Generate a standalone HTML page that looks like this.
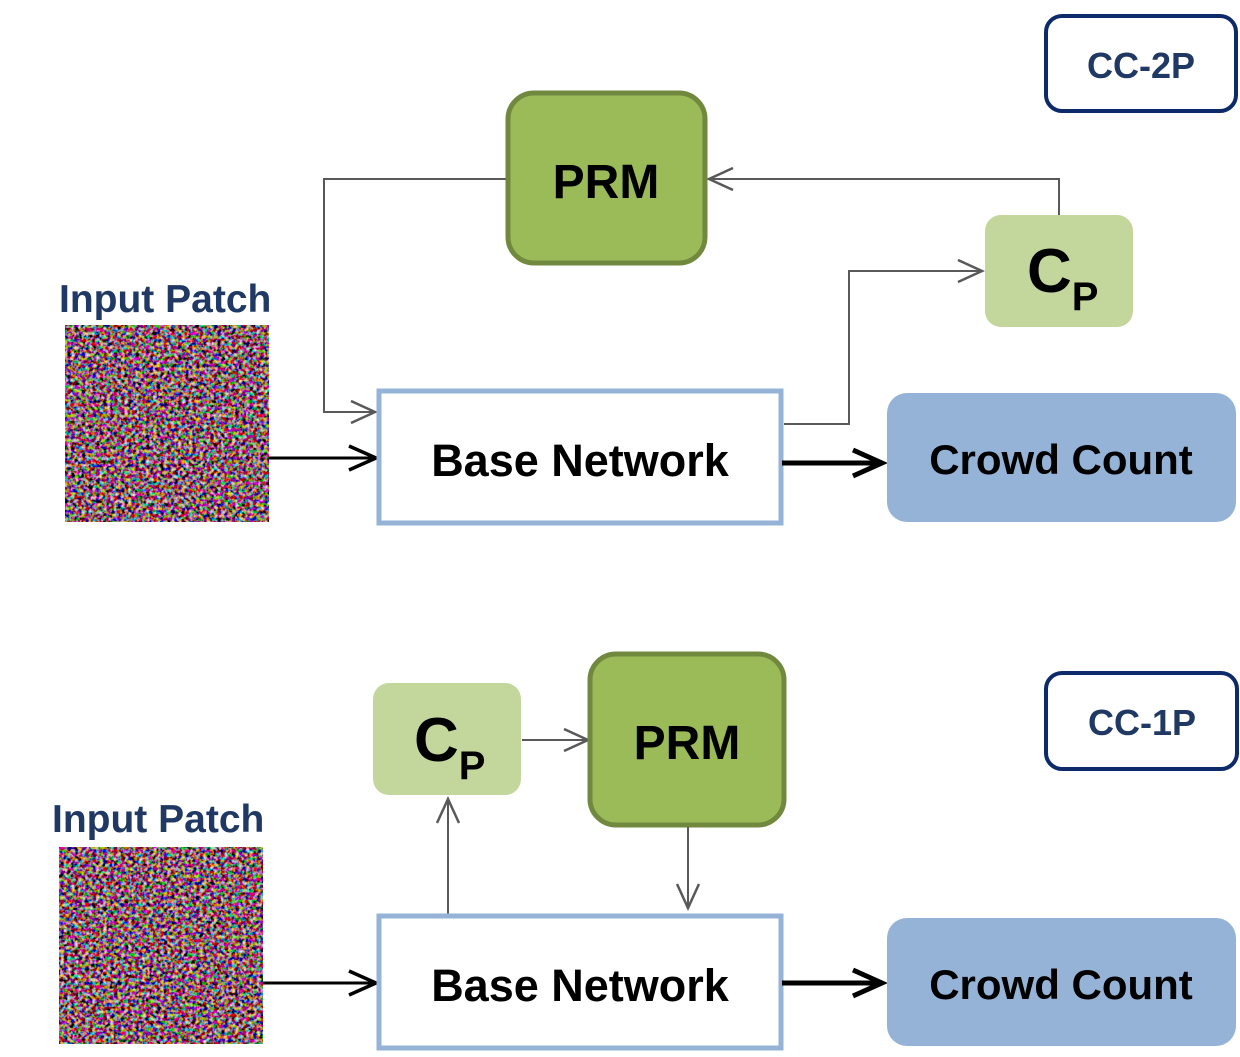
<!DOCTYPE html>
<html><head><meta charset="utf-8"><style>
html,body{margin:0;padding:0;background:#fff;}
svg{display:block;}
text{font-family:"Liberation Sans",sans-serif;font-weight:bold;}
</style></head><body>
<svg width="1240" height="1057" viewBox="0 0 1240 1057" xmlns="http://www.w3.org/2000/svg">
<defs>
<filter id="crowd" x="0" y="0" width="100%" height="100%">
<feTurbulence type="fractalNoise" baseFrequency="0.28" numOctaves="2" seed="7" result="n"/>
<feColorMatrix in="n" type="matrix" values="2.4 0.3 0 0 -1.05  0 2.2 0.2 0 -1.05  0 0.2 2.2 0 -1.0  0 0 0 0 1"/>
</filter>
<marker id="ag" markerWidth="30" markerHeight="30" refX="26" refY="13" orient="auto" markerUnits="userSpaceOnUse">
<path d="M2,2 L26,13 L2,24" fill="none" stroke="#595959" stroke-width="2.5"/></marker>
<marker id="ab" markerWidth="34" markerHeight="34" refX="29" refY="14" orient="auto" markerUnits="userSpaceOnUse">
<path d="M2,2 L29,14 L2,26" fill="none" stroke="#000" stroke-width="3.5"/></marker>
<marker id="ab2" markerWidth="38" markerHeight="38" refX="32" refY="16" orient="auto" markerUnits="userSpaceOnUse">
<path d="M3,3 L32,16 L3,29" fill="none" stroke="#000" stroke-width="5"/></marker>
</defs>

<!-- TOP -->
<rect x="1046" y="16" width="190" height="95" rx="16" fill="#fff" stroke="#0d2a6b" stroke-width="4"/>
<text x="1141" y="78" font-size="36" fill="#1f3864" text-anchor="middle">CC-2P</text>

<polyline points="506,179 324,179 324,412 375,412" fill="none" stroke="#595959" stroke-width="2" marker-end="url(#ag)"/>
<polyline points="784,424 849,424 849,271 982,271" fill="none" stroke="#595959" stroke-width="2" marker-end="url(#ag)"/>
<polyline points="1059,215 1059,179 709,179" fill="none" stroke="#595959" stroke-width="2" marker-end="url(#ag)"/>

<rect x="508" y="93" width="197" height="170" rx="26" fill="#9bbb59" stroke="#71893f" stroke-width="5"/>
<text x="606" y="198" font-size="48" text-anchor="middle" fill="#000">PRM</text>
<rect x="985" y="215" width="148" height="112" rx="16" fill="#c3d69b"/>
<text x="1027" y="292" font-size="62" fill="#000">C<tspan font-size="40" dy="18">P</tspan></text>

<text x="59" y="312" font-size="39" fill="#1f3864">Input Patch</text>
<rect x="65" y="325" width="204" height="197" fill="#3a3535"/>
<rect x="65" y="325" width="204" height="197" filter="url(#crowd)"/>

<line x1="269" y1="458" x2="376" y2="458" stroke="#000" stroke-width="3" marker-end="url(#ab)"/>
<rect x="379" y="391" width="402" height="132" fill="#fff" stroke="#95b3d7" stroke-width="5"/>
<text x="580" y="476" font-size="45" text-anchor="middle" fill="#000">Base Network</text>
<line x1="782" y1="463" x2="882" y2="463" stroke="#000" stroke-width="5" marker-end="url(#ab2)"/>
<rect x="887" y="393" width="349" height="129" rx="20" fill="#95b3d7"/>
<text x="1061" y="474" font-size="42" text-anchor="middle" fill="#000">Crowd Count</text>

<!-- BOTTOM -->
<rect x="1046" y="673" width="191" height="96" rx="16" fill="#fff" stroke="#0d2a6b" stroke-width="4"/>
<text x="1142" y="735" font-size="36" fill="#1f3864" text-anchor="middle">CC-1P</text>

<rect x="373" y="683" width="148" height="112" rx="16" fill="#c3d69b"/>
<text x="414" y="761" font-size="62" fill="#000">C<tspan font-size="40" dy="18">P</tspan></text>
<line x1="522" y1="740" x2="588" y2="740" stroke="#595959" stroke-width="2" marker-end="url(#ag)"/>
<rect x="590" y="654" width="194" height="171" rx="26" fill="#9bbb59" stroke="#71893f" stroke-width="5"/>
<text x="687" y="759" font-size="48" text-anchor="middle" fill="#000">PRM</text>
<line x1="688" y1="827" x2="688" y2="908" stroke="#595959" stroke-width="2" marker-end="url(#ag)"/>
<line x1="448" y1="915" x2="448" y2="799" stroke="#595959" stroke-width="2" marker-end="url(#ag)"/>

<text x="52" y="832" font-size="39" fill="#1f3864">Input Patch</text>
<rect x="59" y="847" width="204" height="197" fill="#3a3535"/>
<rect x="59" y="847" width="204" height="197" filter="url(#crowd)"/>

<line x1="263" y1="983" x2="376" y2="983" stroke="#000" stroke-width="3" marker-end="url(#ab)"/>
<rect x="379" y="916" width="402" height="132" fill="#fff" stroke="#95b3d7" stroke-width="5"/>
<text x="580" y="1001" font-size="45" text-anchor="middle" fill="#000">Base Network</text>
<line x1="782" y1="983" x2="882" y2="983" stroke="#000" stroke-width="5" marker-end="url(#ab2)"/>
<rect x="887" y="918" width="349" height="128" rx="20" fill="#95b3d7"/>
<text x="1061" y="999" font-size="42" text-anchor="middle" fill="#000">Crowd Count</text>
</svg>
</body></html>
